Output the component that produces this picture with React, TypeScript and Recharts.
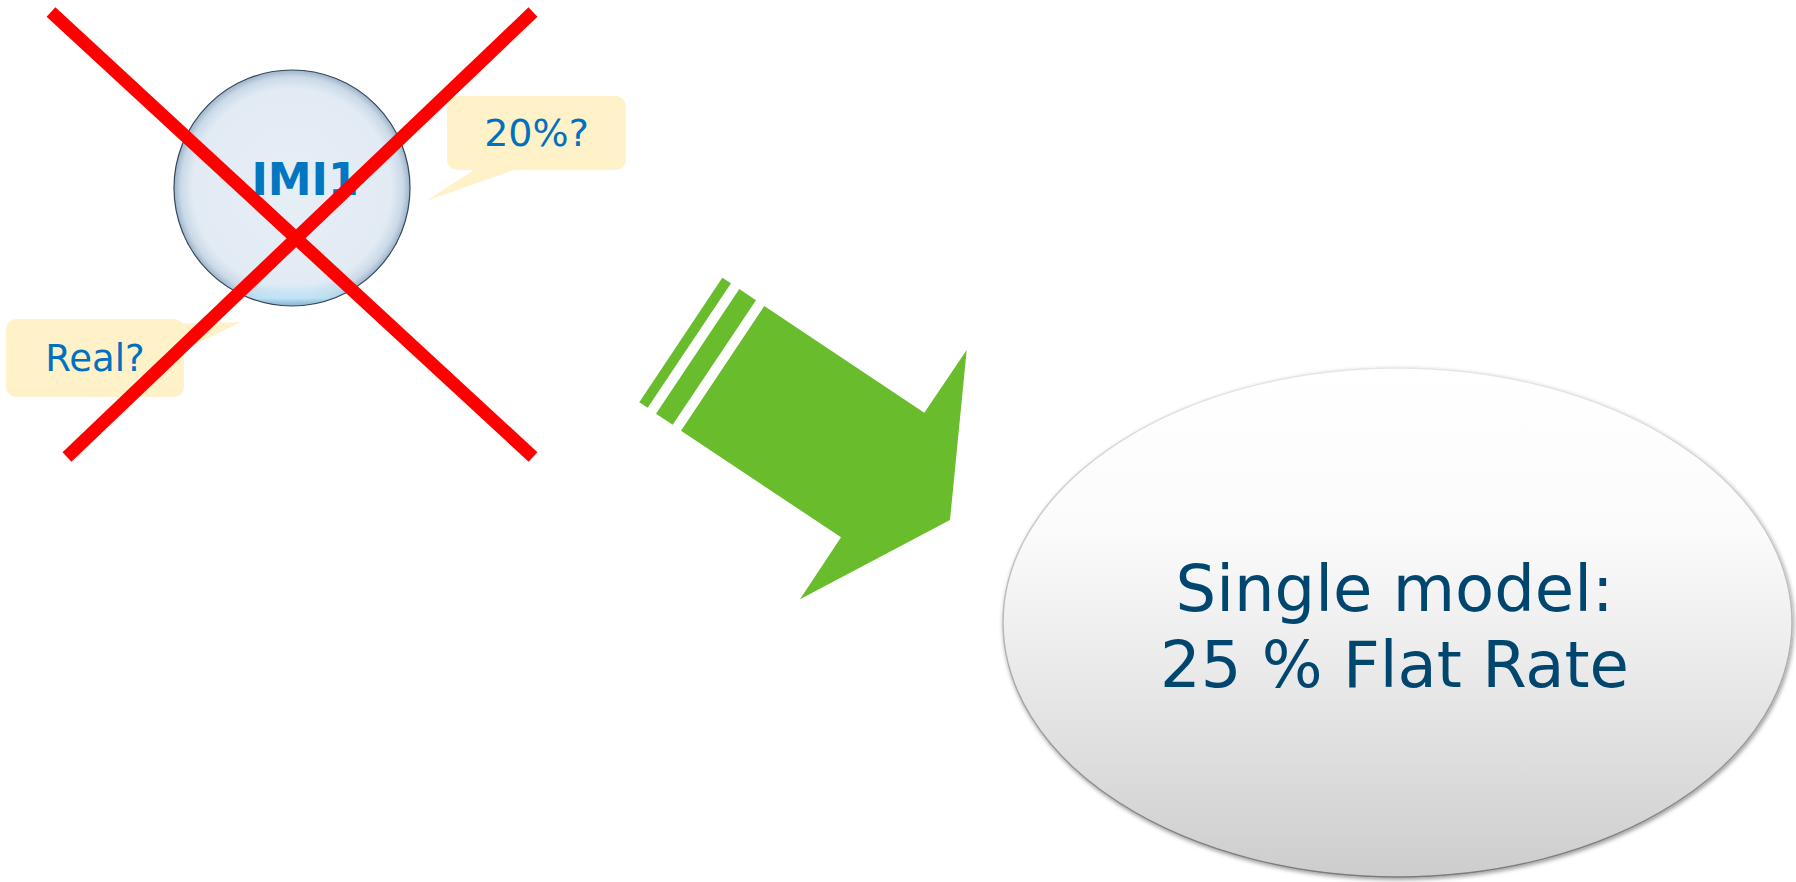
import React from 'react'
import { ComposedChart, XAxis, YAxis, Scatter, ReferenceArea } from 'recharts'

const WIDTH = 1796
const HEIGHT = 882

// Slide coordinates (x to the right, y downward)
const circleBounds = { x1: 174, x2: 410, y1: 70, y2: 306 }
const circleLabel = 'IMI1'

const bubbleBoxes = [
  { x1: 447, x2: 626, y1: 96, y2: 170 },
  { x1: 6, x2: 184, y1: 319, y2: 397 },
]
const bubbleLabels = ['20%?', 'Real?']
const bubbleFontSizes = [38, 37]
const bubbleTailTop = [
  { x: 477, y: 168 },
  { x: 520, y: 168 },
  { x: 426, y: 201 },
]
const bubbleTailBottom = [
  { x: 160, y: 324 },
  { x: 241, y: 322 },
  { x: 182, y: 351 },
]

const crossStrokeA = [
  { x: 51, y: 12 },
  { x: 533, y: 457 },
]
const crossStrokeB = [
  { x: 533, y: 12 },
  { x: 67, y: 457 },
]

const arrowStripeThin = [
  { x: 639.3, y: 402.3 },
  { x: 722.3, y: 277.7 },
  { x: 731, y: 283.3 },
  { x: 647.7, y: 407.7 },
]
const arrowStripeWide = [
  { x: 656, y: 413.7 },
  { x: 739.3, y: 289 },
  { x: 756, y: 300.3 },
  { x: 672.7, y: 424.7 },
]
const arrowBody = [
  { x: 681, y: 430.7 },
  { x: 764.3, y: 306 },
  { x: 924.3, y: 412.7 },
  { x: 966.7, y: 350 },
  { x: 950, y: 520 },
  { x: 800, y: 599.3 },
  { x: 841, y: 537.3 },
]

const resultBounds = { x1: 1003, x2: 1792, y1: 368, y2: 877 }
const resultLines = ['Single model:', '25 % Flat Rate']

const FONT = '"DejaVu Sans", Verdana, sans-serif'
const BUBBLE_FILL = '#FFF2C9'
const BUBBLE_TEXT = '#0070C0'
const GREEN = '#69BD2D'

const HiddenPoint = () => <g />

// scatter "line" drawn as a filled polygon through the scaled points
const polygonLine = (fill: string) => (props: any) => (
  <polygon
    points={props.points.map((p: any) => `${p.x},${p.y}`).join(' ')}
    fill={fill}
    stroke="none"
  />
)

const bubbleShape = (i: number) => (props: any) => {
  const { x, y, width, height } = props
  return (
    <g>
      <rect x={x} y={y} width={width} height={height} rx={10} ry={10} fill={BUBBLE_FILL} />
      <text
        x={x + width / 2}
        y={y + height / 2 + 13}
        textAnchor="middle"
        fontFamily={FONT}
        fontSize={bubbleFontSizes[i]}
        fill={BUBBLE_TEXT}
      >
        {bubbleLabels[i]}
      </text>
    </g>
  )
}

const circleShape = (props: any) => {
  const { x, y, width, height } = props
  const cx = x + width / 2
  const cy = y + height / 2
  return (
    <g>
      <ellipse cx={cx} cy={cy} rx={width / 2} ry={height / 2} fill="url(#imiFill)" stroke="#34465A" strokeWidth={1.2} />
      <ellipse cx={cx} cy={cy} rx={width / 2 - 1} ry={height / 2 - 1} fill="url(#imiGlow)" />
      <text
        x={cx + 13}
        y={cy + 7}
        textAnchor="middle"
        fontFamily={FONT}
        fontWeight="bold"
        fontSize={44}
        fill="#0077C0"
      >
        {circleLabel}
      </text>
    </g>
  )
}

const resultShape = (props: any) => {
  const { x, y, width, height } = props
  const cx = x + width / 2
  const cy = y + height / 2
  return (
    <g>
      <ellipse
        cx={cx}
        cy={cy}
        rx={width / 2}
        ry={height / 2}
        fill="url(#ovalFill)"
        stroke="url(#ovalEdge)"
        strokeWidth={1.5}
        filter="url(#ovalShadow)"
      />
      {resultLines.map((line, i) => (
        <text
          key={line}
          x={cx - 3}
          y={cy - 12 + i * 76}
          textAnchor="middle"
          fontFamily={FONT}
          fontSize={64}
          fill="#00466F"
        >
          {line}
        </text>
      ))}
    </g>
  )
}

export default function App() {
  return (
    <div style={{ position: 'absolute', left: 0, top: 0, background: '#fff' }}>
      <ComposedChart width={WIDTH} height={HEIGHT} margin={{ top: 0, right: 0, bottom: 0, left: 0 }}>
        <defs>
          <radialGradient id="imiFill" cx="50%" cy="50%" r="50%">
            <stop offset="0%" stopColor="#E6EEF6" />
            <stop offset="84%" stopColor="#E2EBF4" />
            <stop offset="94%" stopColor="#CBDAE8" />
            <stop offset="100%" stopColor="#9DB3C9" />
          </radialGradient>
          <linearGradient id="imiGlow" x1="0" y1="0" x2="0" y2="1">
            <stop offset="0%" stopColor="#BEE6FA" stopOpacity={0} />
            <stop offset="90%" stopColor="#BEE6FA" stopOpacity={0} />
            <stop offset="97%" stopColor="#BEE6FA" stopOpacity={0.8} />
            <stop offset="100%" stopColor="#7FB6DA" stopOpacity={0.6} />
          </linearGradient>
          <linearGradient id="ovalFill" x1="0" y1="0" x2="0" y2="1">
            <stop offset="0%" stopColor="#FFFFFF" />
            <stop offset="32%" stopColor="#FBFBFB" />
            <stop offset="55%" stopColor="#EDEDED" />
            <stop offset="100%" stopColor="#CDCDCD" />
          </linearGradient>
          <linearGradient id="ovalEdge" x1="0" y1="0" x2="0" y2="1">
            <stop offset="0%" stopColor="#E6E6E6" />
            <stop offset="50%" stopColor="#B8B8B8" />
            <stop offset="100%" stopColor="#7A7A7A" />
          </linearGradient>
          <filter id="ovalShadow" x="-5%" y="-5%" width="112%" height="115%">
            <feDropShadow dx="1" dy="2" stdDeviation="2" floodColor="#000" floodOpacity="0.4" />
          </filter>
        </defs>

        <XAxis type="number" dataKey="x" domain={[0, WIDTH]} hide allowDataOverflow />
        <YAxis type="number" dataKey="y" domain={[0, HEIGHT]} reversed hide allowDataOverflow />

        {bubbleBoxes.map((b, i) => (
          <ReferenceArea key={i} x1={b.x1} x2={b.x2} y1={b.y1} y2={b.y2} shape={bubbleShape(i)} />
        ))}
        <ReferenceArea
          x1={circleBounds.x1}
          x2={circleBounds.x2}
          y1={circleBounds.y1}
          y2={circleBounds.y2}
          shape={circleShape}
        />
        <ReferenceArea
          x1={resultBounds.x1}
          x2={resultBounds.x2}
          y1={resultBounds.y1}
          y2={resultBounds.y2}
          shape={resultShape}
        />

        <Scatter data={bubbleTailTop} shape={HiddenPoint} line={polygonLine(BUBBLE_FILL)} isAnimationActive={false} />
        <Scatter data={bubbleTailBottom} shape={HiddenPoint} line={polygonLine(BUBBLE_FILL)} isAnimationActive={false} />

        <Scatter data={arrowStripeThin} shape={HiddenPoint} line={polygonLine(GREEN)} isAnimationActive={false} />
        <Scatter data={arrowStripeWide} shape={HiddenPoint} line={polygonLine(GREEN)} isAnimationActive={false} />
        <Scatter data={arrowBody} shape={HiddenPoint} line={polygonLine(GREEN)} isAnimationActive={false} />

        <Scatter
          data={crossStrokeA}
          shape={HiddenPoint}
          line={{ stroke: '#FF0000', strokeWidth: 13 }}
          isAnimationActive={false}
        />
        <Scatter
          data={crossStrokeB}
          shape={HiddenPoint}
          line={{ stroke: '#FF0000', strokeWidth: 13 }}
          isAnimationActive={false}
        />
      </ComposedChart>
    </div>
  )
}
